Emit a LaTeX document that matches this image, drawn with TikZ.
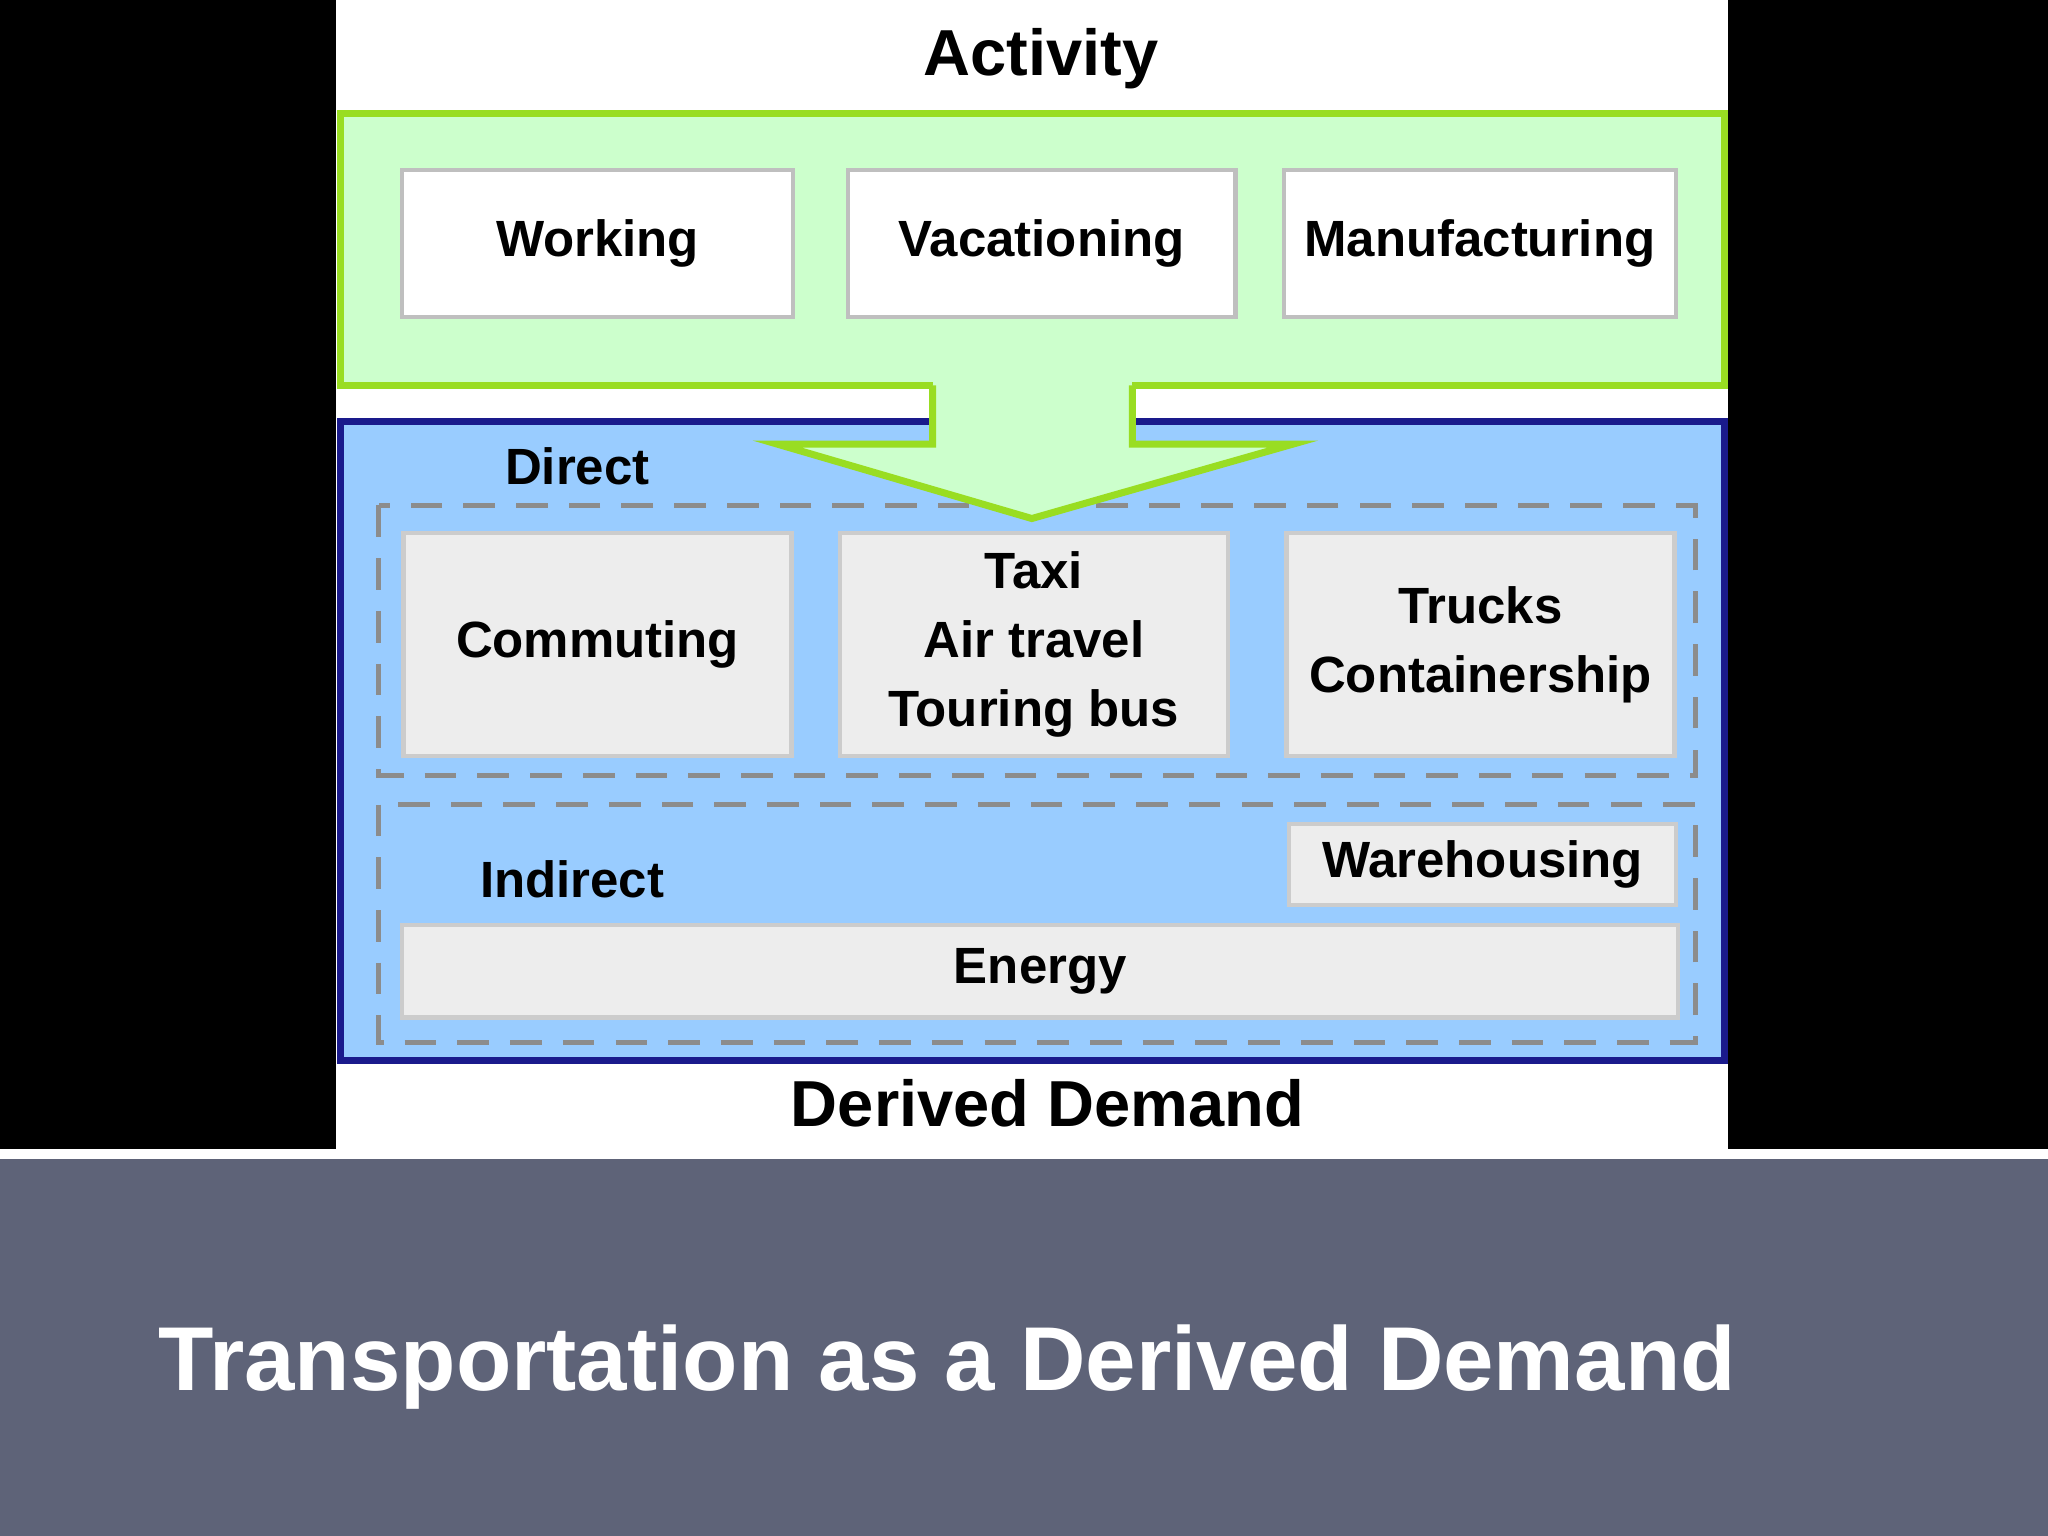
\documentclass[tikz,border=0pt]{standalone}
\usepackage{fontspec}
\setmainfont{Liberation Sans}
\begin{document}
\begin{tikzpicture}[x=0.01306cm,y=-0.01306cm,
  lbl/.style={font=\bfseries\fontsize{14.5}{19.6}\selectfont,align=center},
  wbox/.style={draw=black!25,line width=1.2pt,fill=white},
  gbox/.style={draw=black!20,line width=1.2pt,fill=black!7},
  dbox/.style={draw=black!45,dashed,dash pattern=on 9pt off 6pt,line width=1.5pt}]
\fill[black] (0,0) rectangle (1568,880);
\fill[white] (257,0) rectangle (1323,880);
\fill[white] (0,880) rectangle (1568,887);
\fill[fill={rgb,255:red,94;green,99;blue,120}] (0,887) rectangle (1568,1176);
\useasboundingbox (0,0) rectangle (1568,1176);
\node[lbl,font=\bfseries\fontsize{18.5}{22}\selectfont] (act) at (797,45) {Activity};
\draw[fill={rgb,255:red,204;green,255;blue,204},draw={rgb,255:red,153;green,221;blue,34},line width=2pt] (261,87) rectangle (1320,295);
\draw[wbox] (308,130) rectangle node[lbl] (w) {Working} (607,243);
\draw[wbox] (649,130) rectangle node[lbl] (v) {Vacationing} (946,243);
\draw[wbox] (983,130) rectangle node[lbl] (m) {Manufacturing} (1283,243);
\draw[fill={rgb,255:red,153;green,204;blue,255},draw={rgb,255:red,26;green,26;blue,140},line width=2pt] (261,323) rectangle (1320,812);
\node[lbl] (dir) at (442,357) {Direct};
\draw[dbox] (290,387) rectangle (1298,594);
\draw[gbox] (309,408) rectangle node[lbl] (c) {Commuting} (606,579);
\draw[gbox] (643,408) rectangle node[lbl] (t) {Taxi\\Air travel\\Touring bus} (940,579);
\draw[gbox] (985,408) rectangle node[lbl] (tr) {Trucks\\Containership} (1282,579);
\draw[dbox] (290,616) rectangle (1298,798);
\node[lbl] (ind) at (438,673) {Indirect};
\draw[gbox] (987,631) rectangle node[lbl] (wh) {Warehousing} (1283,693);
\draw[gbox] (308,708) rectangle node[lbl] (e) {Energy} (1285,779);
\fill[fill={rgb,255:red,204;green,255;blue,204}] (714,285) rectangle (867,300);
\draw[fill={rgb,255:red,204;green,255;blue,204},draw={rgb,255:red,153;green,221;blue,34},line width=2pt]
  (714,295) -- (714,340) -- (595,340) -- (790,397) -- (990,340) -- (867,340) -- (867,295);
\node[lbl,font=\bfseries\fontsize{18.5}{22}\selectfont] (dd) at (802,845) {Derived Demand};
\node[font=\bfseries\fontsize{25.8}{30}\selectfont,text=white,anchor=west] (title) at (112,1047) {Transportation as a Derived Demand};
\end{tikzpicture}
\end{document}
